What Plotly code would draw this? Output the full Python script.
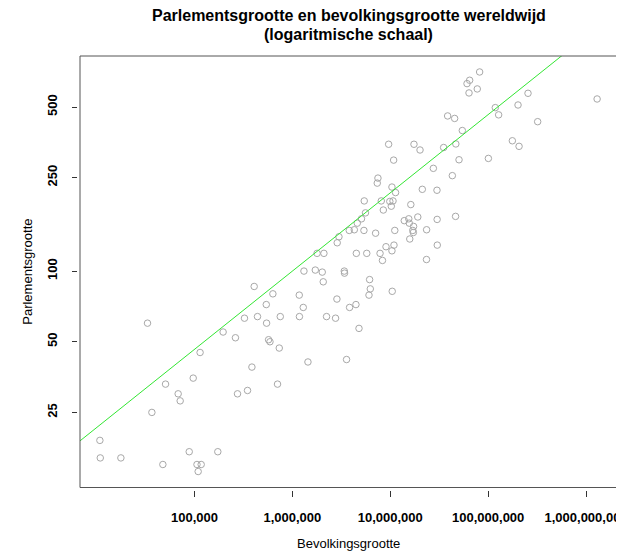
import numpy as np
import plotly.graph_objects as go

# population (x) and parliament size (y) per country
population = [
    407000, 440000, 324000, 33100, 196000, 262000, 114000, 386000, 97000, 50600,
    68100, 71400, 275000, 348000, 36700, 10800, 10900, 17700, 88300, 173000,
    47500, 106000, 117000, 109000,
    1312000, 1714000, 2018000, 3390000, 3410000, 2066000, 6150000, 6250000, 6060000, 10470000,
    632000, 1175000, 2850000, 541000, 1291000, 3840000, 4460000, 752000, 1180000, 2234000,
    2760000, 545000, 4790000, 571000, 590000, 734000, 1442000, 3575000, 705000,
    9620000, 17460000, 20130000, 10820000, 27540000, 7480000, 7360000, 10400000, 11320000, 21240000,
    30000000, 5420000, 8090000, 9890000, 10660000, 10240000, 16210000, 8490000, 5580000, 5080000,
    4600000, 19100000, 13900000, 15450000, 15630000, 17300000, 16980000, 17200000, 23500000, 30100000,
    3810000, 4290000, 5380000, 7080000, 11120000, 2990000, 2870000, 15820000, 30200000, 9040000,
    10910000, 10400000, 7860000, 4500000, 5750000, 8320000, 23440000, 1787000, 2099000,
    81800000, 64700000, 60800000, 77400000, 63700000, 255300000, 1297000000, 201800000, 118300000, 127900000,
    320300000, 38550000, 45440000, 54440000, 176600000, 206800000, 35080000, 46740000, 50380000, 100500000,
    43050000, 46450000,
]
seats = [
    86, 64, 63, 60, 55, 52, 45, 39, 35, 33,
    30, 28, 30, 31, 25, 19, 16, 16, 17, 17,
    15, 15, 15, 14,
    100, 101, 99, 100, 98, 90, 92, 84, 79, 82,
    80, 79, 76, 72, 70, 70, 72, 64, 64, 64,
    63, 60, 57, 51, 50, 47, 41, 42, 33,
    347, 347, 328, 297, 274, 249, 237, 228, 216, 223,
    221, 199, 199, 198, 199, 189, 192, 182, 177, 167,
    160, 170, 164, 167, 160, 155, 149, 146, 150, 166,
    149, 150, 149, 145, 149, 140, 132, 137, 129, 127,
    129, 122, 119, 119, 119, 111, 112, 119, 119,
    705, 650, 629, 597, 574, 572, 541, 510, 497, 463,
    433, 458, 447, 397, 359, 340, 336, 348, 298, 302,
    255, 171,
]

x_ticks = [1e5, 1e6, 1e7, 1e8, 1e9]
x_ticktext = ['100,000', '1,000,000', '10,000,000', '100,000,000', '1,000,000,000']
y_ticks = [25, 50, 100, 250, 500]

# cube root law: seats = population ** (1/3)
law_exponent = 1 / 3
law_factor = 1.0

lx = np.log10(population)
ly = np.log10(seats)

# R-style axis ranges: data range plus 4% on each side
def r_range(v):
    span = v.max() - v.min()
    return [v.min() - 0.04 * span, v.max() + 0.04 * span]

xr = r_range(lx)
yr = r_range(ly)

line_x = np.array(xr)
line_y = np.log10(law_factor) + law_exponent * line_x

font = 'Liberation Sans, Arial, sans-serif'

# the page body adds an 8px offset, so the figure is laid out 8px smaller
OFF = 8
W, H = 624 - OFF, 554 - OFF
L, R, T, B = 77 - OFF, 7, 56 - OFF, 64
PW, PH = W - L - R, H - T - B


def px_x(wx):
    # window pixel x -> paper x
    return (wx - OFF - L) / PW


def px_y(wy):
    # window pixel y -> paper y
    return (H - B - (wy - OFF)) / PH


tick_font = dict(family=font, size=13, color='black', weight='bold')

fig = go.Figure()
fig.add_trace(go.Scatter(
    x=population, y=seats, mode='markers',
    marker=dict(symbol='circle-open', size=6.5, color='#a8a8a8', line=dict(width=1, color='#a8a8a8')),
    showlegend=False, cliponaxis=False
))
fig.add_trace(go.Scatter(
    x=10 ** line_x, y=10 ** line_y, mode='lines',
    line=dict(color='#33e633', width=1),
    showlegend=False
))

fig.update_layout(
    width=W, height=H,
    margin=dict(l=L, r=R, t=T, b=B, autoexpand=False),
    paper_bgcolor='white', plot_bgcolor='white',
    font=dict(family=font, size=13, color='black'),
    xaxis=dict(
        type='log', range=xr, domain=[3 / PW, 1],
        anchor='free', position=0,
        showgrid=False, zeroline=False, showline=False,
        ticks='outside', ticklen=6, tickcolor='#333', tickwidth=1,
        tickvals=x_ticks, ticktext=x_ticktext, tickfont=tick_font,
        ticklabelstandoff=9, ticklabeloverflow='allow', automargin=False,
    ),
    yaxis=dict(
        type='log', range=yr, domain=[2.5 / PH, 1],
        anchor='free', position=0,
        showgrid=False, zeroline=False, showline=False,
        ticks='outside', ticklen=5, tickcolor='#333', tickwidth=1,
        tickvals=y_ticks, ticktext=[str(v) for v in y_ticks], tickfont=tick_font,
        tickangle=-90, ticklabelstandoff=10, automargin=False,
    ),
    shapes=[dict(
        type='rect', xref='x domain', yref='y domain',
        x0=0, x1=1, y0=0, y1=1,
        line=dict(color='#555', width=1)
    )],
    annotations=[
        dict(text='<b>Parlementsgrootte en bevolkingsgrootte wereldwijd</b>',
             xref='x domain', yref='paper', x=0.5, y=px_y(16),
             showarrow=False, xanchor='center', yanchor='middle',
             font=dict(size=16)),
        dict(text='<b>(logaritmische schaal)</b>',
             xref='x domain', yref='paper', x=0.5, y=px_y(34),
             showarrow=False, xanchor='center', yanchor='middle',
             font=dict(size=16)),
        dict(text='Bevolkingsgrootte', xref='x domain', yref='paper',
             x=0.5, y=px_y(543), showarrow=False,
             xanchor='center', yanchor='middle', font=dict(size=13)),
        dict(text='Parlementsgrootte', xref='paper', yref='y domain',
             x=px_x(28), y=0.5, showarrow=False, textangle=-90,
             xanchor='center', yanchor='middle', font=dict(size=13)),
    ],
)

fig.write_html('out.html')
